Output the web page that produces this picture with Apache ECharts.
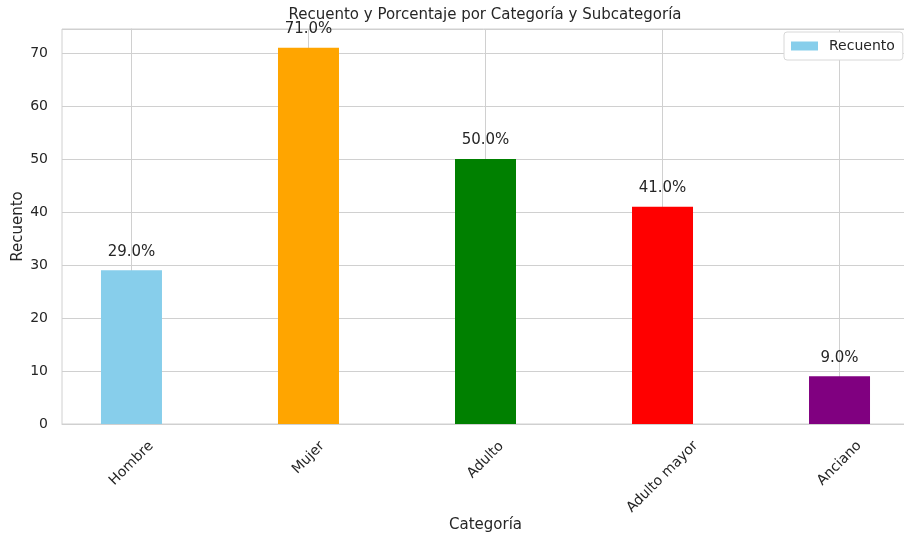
<!DOCTYPE html>
<html>
<head>
<meta charset="utf-8">
<script src="https://cdn.jsdelivr.net/npm/echarts@6/dist/echarts.min.js"></script>
<style>html,body{margin:0;padding:0;background:#fff;}#c{width:904px;height:541px;}</style>
</head>
<body>
<div id="c"></div>
<script>
var categories = ['Hombre', 'Mujer', 'Adulto', 'Adulto mayor', 'Anciano'];
var counts = [29, 71, 50, 41, 9];
var percents = [29.0, 71.0, 50.0, 41.0, 9.0];
var barColors = ['#87CEEB', '#FFA500', '#008000', '#FF0000', '#800080'];
var yTicks = [0, 10, 20, 30, 40, 50, 60, 70];

var FONT = '"DejaVu Sans", sans-serif';
var TXT = '#262626';
var GRIDC = '#d0d0d0';

// per-label padding so the rotated label's bounding box is centred under its tick (matplotlib style)
var cv = document.createElement('canvas').getContext('2d');
cv.font = '14px "DejaVu Sans"';
var rich = {};
categories.forEach(function (c, i) {
  var L = cv.measureText(c).width;
  var W = (L + 16) * 0.7071;
  var P = Math.round(W * 0.7071);
  rich['c' + i] = { fontSize: 14, fontFamily: FONT, color: TXT, padding: [P, P, 0, 0] };
});

var barData = counts.map(function (v, i) {
  return { value: [i, v], itemStyle: { color: barColors[i] } };
});

var chart = echarts.init(document.getElementById('c'));
chart.setOption({
  animation: false,
  backgroundColor: '#ffffff',
  title: {
    text: 'Recuento y Porcentaje por Categoría y Subcategoría',
    left: 485, top: 8, textAlign: 'center', padding: 0,
    textStyle: { fontFamily: FONT, fontSize: 15, fontWeight: 'normal', color: TXT }
  },
  legend: {
    data: [{ name: 'Recuento', icon: 'rect', itemStyle: { color: '#87CEEB' } }],
    left: 784, top: 32,
    padding: [7, 8, 7, 7],
    itemWidth: 27, itemHeight: 9,
    backgroundColor: '#ffffff', borderColor: '#d8d8d8', borderWidth: 1, borderRadius: 3,
    textStyle: { fontFamily: FONT, fontSize: 14, color: TXT, padding: [0, 0, 0, 6] }
  },
  grid: { left: 62, top: 29, width: 847, height: 395, show: true, borderColor: GRIDC, borderWidth: 1, containLabel: false, outerBoundsMode: 'none' },
  xAxis: {
    type: 'value', min: -0.3925, max: 4.3925,
    name: 'Categoría', nameLocation: 'middle', nameGap: 94, nameMoveOverlap: false,
    nameTextStyle: { fontFamily: FONT, fontSize: 15, color: TXT },
    axisLine: { show: true, lineStyle: { color: GRIDC, width: 1 } },
    axisTick: { show: false, customValues: [0, 1, 2, 3, 4] },
    splitLine: { show: true, lineStyle: { color: GRIDC, width: 1 } },
    axisLabel: {
      customValues: [0, 1, 2, 3, 4],
      rotate: 45, align: 'center', verticalAlign: 'middle', margin: 14,
      fontFamily: FONT, fontSize: 14, color: TXT,
      formatter: function (v) { var i = Math.round(v); return '{c' + i + '|' + categories[i] + '}'; },
      rich: rich
    }
  },
  yAxis: {
    type: 'value', min: 0, max: 74.55, interval: 10,
    name: 'Recuento', nameLocation: 'middle', nameGap: 36, nameMoveOverlap: false,
    nameTextStyle: { fontFamily: FONT, fontSize: 15, color: TXT },
    axisLine: { show: true, lineStyle: { color: GRIDC, width: 1 } },
    axisTick: { show: false },
    splitLine: { show: true, lineStyle: { color: GRIDC, width: 1 } },
    axisLabel: {
      margin: 14, fontFamily: FONT, fontSize: 14, color: TXT,
      customValues: yTicks,
      formatter: function (v) { return String(v); }
    }
  },
  series: [{
    name: 'Recuento', type: 'bar', barWidth: 61, z: 3,
    data: barData,
    label: {
      show: true, position: 'top', distance: 11,
      fontFamily: FONT, fontSize: 15, color: TXT,
      formatter: function (p) { return percents[p.dataIndex].toFixed(1) + '%'; }
    }
  }]
});
</script>
</body>
</html>
